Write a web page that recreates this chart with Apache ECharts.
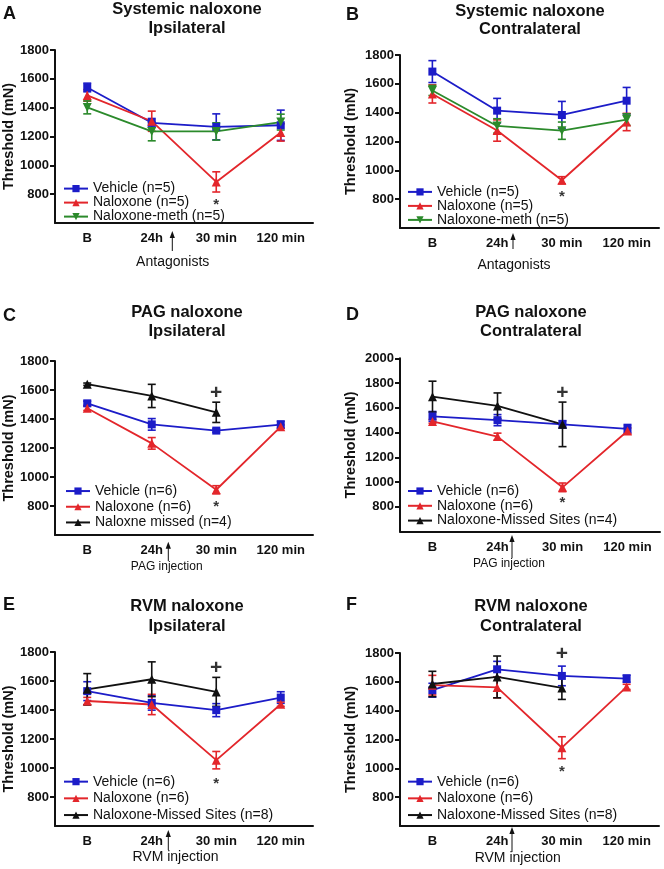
<!DOCTYPE html>
<html><head><meta charset="utf-8">
<script src="https://cdn.jsdelivr.net/npm/echarts@6/dist/echarts.min.js"></script>
<style>html,body{margin:0;padding:0;background:#fff}#c{width:664px;height:869px}</style>
</head><body><div id="c"></div>
<script>
const categories = ['B', '24h', '30 min', '120 min'];
const yTicks1800 = [800, 1000, 1200, 1400, 1600, 1800];
const yTicks2000 = [800, 1000, 1200, 1400, 1600, 1800, 2000];

// Panel A – Systemic naloxone, Ipsilateral
const aVehicle = [1540, 1295, 1267, 1278];  const aVehicleErr = [30, 30, 90, 105];
const aNaloxone = [1485, 1306, 885, 1228];  const aNaloxoneErr = [40, 70, 70, 60];
const aMeth = [1402, 1235, 1235, 1300];     const aMethErr = [45, 65, 60, 55];
// Panel B – Systemic naloxone, Contralateral
const bVehicle = [1685, 1414, 1384, 1483];  const bVehicleErr = [76, 85, 94, 92];
const bNaloxone = [1530, 1276, 931, 1335];  const bNaloxoneErr = [63, 74, 25, 60];
const bMeth = [1554, 1308, 1275, 1352];     const bMethErr = [35, 50, 60, 40];
// Panel C – PAG naloxone, Ipsilateral
const cVehicle = [1508, 1363, 1320, 1361];  const cVehicleErr = [15, 40, 12, 25];
const cNaloxone = [1474, 1232, 912, 1347];  const cNaloxoneErr = [15, 40, 28, 12];
const cMissed = [1640, 1559, 1446, null];   const cMissedErr = [8, 80, 70, null];
// Panel D – PAG naloxone, Contralateral
const dVehicle = [1530, 1500, 1466, 1430];  const dVehicleErr = [40, 45, 30, 35];
const dNaloxone = [1490, 1367, 957, 1412];  const dNaloxoneErr = [15, 28, 35, 25];
const dMissed = [1690, 1615, 1466, null];   const dMissedErr = [125, 105, 180, null];
// Panel E – RVM naloxone, Ipsilateral
const eVehicle = [1530, 1449, 1399, 1486];  const eVehicleErr = [65, 50, 45, 40];
const eNaloxone = [1462, 1438, 1054, 1440]; const eNaloxoneErr = [25, 70, 60, 15];
const eMissed = [1543, 1612, 1525, null];   const eMissedErr = [108, 120, 100, null];
// Panel F – RVM naloxone, Contralateral
const fVehicle = [1542, 1687, 1641, 1622];  const fVehicleErr = [48, 55, 68, 25];
const fNaloxone = [1577, 1561, 1143, 1565]; const fNaloxoneErr = [68, 72, 76, 18];
const fMissed = [1585, 1634, 1558, null];   const fMissedErr = [88, 145, 80, null];

// significance markers: [category, value, symbol]
const aMarks = [['30 min', 755, '*']];
const bMarks = [['30 min', 846, '*']];
const cMarks = [['30 min', 823, '*'], ['30 min', 1588, '+']];
const dMarks = [['30 min', 860, '*'], ['30 min', 1722, '+']];
const eMarks = [['30 min', 917, '*'], ['30 min', 1692, '+']];
const fMarks = [['30 min', 1000, '*'], ['30 min', 1796, '+']];

const FONT = '"Liberation Sans", Arial, sans-serif';
const BLUE = '#1c1cc8', RED = '#e3262b', GREEN = '#2b8a2b', BLACK = '#111111';

const panels = [
  {grid: {left: 54, top: 50, width: 259, height: 173}, max: 1800, ticks: yTicks1800, nameGap: 39,
   legend: {left: 63, top: 181.6, lh: 13.4},
   series: [['Vehicle (n=5)', aVehicle, aVehicleErr, BLUE, 'rect', 0],
            ['Naloxone (n=5)', aNaloxone, aNaloxoneErr, RED, 'triangle', 0],
            ['Naloxone-meth (n=5)', aMeth, aMethErr, GREEN, 'triangle', 180]], marks: aMarks},
  {grid: {left: 400, top: 55, width: 259, height: 173}, max: 1800, ticks: yTicks1800, nameGap: 42,
   legend: {left: 407, top: 184.9, lh: 13.6},
   series: [['Vehicle (n=5)', bVehicle, bVehicleErr, BLUE, 'rect', 0],
            ['Naloxone (n=5)', bNaloxone, bNaloxoneErr, RED, 'triangle', 0],
            ['Naloxone-meth (n=5)', bMeth, bMethErr, GREEN, 'triangle', 180]], marks: bMarks},
  {grid: {left: 54, top: 361, width: 259, height: 174}, max: 1800, ticks: yTicks1800, nameGap: 39,
   legend: {left: 65, top: 483.2, lh: 15.7},
   series: [['Vehicle (n=6)', cVehicle, cVehicleErr, BLUE, 'rect', 0],
            ['Naloxone (n=6)', cNaloxone, cNaloxoneErr, RED, 'triangle', 0],
            ['Naloxne missed (n=4)', cMissed, cMissedErr, BLACK, 'triangle', 0]], marks: cMarks},
  {grid: {left: 400, top: 358.3, width: 260, height: 173.2}, max: 2000, ticks: yTicks2000, nameGap: 42,
   legend: {left: 407, top: 483.6, lh: 14.8},
   series: [['Vehicle (n=6)', dVehicle, dVehicleErr, BLUE, 'rect', 0],
            ['Naloxone (n=6)', dNaloxone, dNaloxoneErr, RED, 'triangle', 0],
            ['Naloxone-Missed Sites (n=4)', dMissed, dMissedErr, BLACK, 'triangle', 0]], marks: dMarks},
  {grid: {left: 54, top: 652, width: 259, height: 174}, max: 1800, ticks: yTicks1800, nameGap: 39,
   legend: {left: 63, top: 773.3, lh: 16.7},
   series: [['Vehicle (n=6)', eVehicle, eVehicleErr, BLUE, 'rect', 0],
            ['Naloxone (n=6)', eNaloxone, eNaloxoneErr, RED, 'triangle', 0],
            ['Naloxone-Missed Sites (n=8)', eMissed, eMissedErr, BLACK, 'triangle', 0]], marks: eMarks},
  {grid: {left: 400, top: 653, width: 259, height: 173}, max: 1800, ticks: yTicks1800, nameGap: 42,
   legend: {left: 407, top: 773.3, lh: 16.7},
   series: [['Vehicle (n=6)', fVehicle, fVehicleErr, BLUE, 'rect', 0],
            ['Naloxone (n=6)', fNaloxone, fNaloxoneErr, RED, 'triangle', 0],
            ['Naloxone-Missed Sites (n=8)', fMissed, fMissedErr, BLACK, 'triangle', 0]], marks: fMarks}
];

const grid = [], xAxis = [], yAxis = [], legend = [], series = [];
panels.forEach((p, idx) => {
  grid.push(Object.assign({containLabel: false}, p.grid));
  xAxis.push({
    type: 'category', gridIndex: idx, data: categories, boundaryGap: true,
    axisLine: {lineStyle: {color: BLACK, width: 2}},
    axisTick: {alignWithLabel: true, length: 5, lineStyle: {color: BLACK, width: 2}},
    axisLabel: {color: BLACK, fontFamily: FONT, fontSize: 13, fontWeight: 'bold', margin: 9},
    splitLine: {show: false}
  });
  yAxis.push({
    type: 'value', gridIndex: idx, min: 600, max: p.max, interval: 200,
    name: 'Threshold (mN)', nameLocation: 'middle', nameGap: p.nameGap,
    nameTextStyle: {color: BLACK, fontFamily: FONT, fontSize: 14.5, fontWeight: 'bold'},
    axisLine: {show: true, lineStyle: {color: BLACK, width: 2}},
    axisTick: {show: true, length: 5, customValues: p.ticks, lineStyle: {color: BLACK, width: 2}},
    axisLabel: {color: BLACK, fontFamily: FONT, fontSize: 13, fontWeight: 'bold', margin: 6,
      customValues: p.ticks, formatter: v => String(v)},
    splitLine: {show: false}
  });
  legend.push({
    orient: 'vertical', left: p.legend.left, top: p.legend.top, padding: 0, itemGap: 0,
    itemWidth: 24, itemHeight: 9, selectedMode: false,
    data: p.series.map(s => s[0]),
    textStyle: {color: BLACK, fontFamily: FONT, fontSize: 14, lineHeight: p.legend.lh}
  });
  p.series.forEach(([name, vals, errs, color, sym, rot]) => {
    series.push({
      type: 'custom', xAxisIndex: idx, yAxisIndex: idx, z: 2, silent: true,
      data: vals.map((v, i) => v == null ? null : [i, v - errs[i], v + errs[i]]).filter(d => d),
      renderItem: (params, api) => {
        const lo = api.coord([api.value(0), api.value(1)]);
        const hi = api.coord([api.value(0), api.value(2)]);
        const w = 4;
        const st = {stroke: color, lineWidth: 1.6};
        return {type: 'group', children: [
          {type: 'line', shape: {x1: lo[0], y1: lo[1], x2: hi[0], y2: hi[1]}, style: st},
          {type: 'line', shape: {x1: lo[0] - w, y1: lo[1], x2: lo[0] + w, y2: lo[1]}, style: st},
          {type: 'line', shape: {x1: hi[0] - w, y1: hi[1], x2: hi[0] + w, y2: hi[1]}, style: st}
        ]};
      }
    });
    series.push({
      type: 'line', name, xAxisIndex: idx, yAxisIndex: idx, z: 3, data: vals,
      symbol: sym, symbolSize: sym === 'rect' ? 8 : 9, symbolRotate: rot, showSymbol: true,
      connectNulls: false, animation: false,
      lineStyle: {color, width: 1.8}, itemStyle: {color}
    });
  });
  series.push({
    type: 'scatter', xAxisIndex: idx, yAxisIndex: idx, z: 5, silent: true, symbolSize: 0.1,
    data: p.marks.map(m => ({value: [m[0], m[1]], label: {
      show: true, position: 'inside', formatter: m[2], color: '#000', fontFamily: FONT, fontWeight: 'bold',
      fontSize: m[2] === '*' ? 15 : 21, offset: m[2] === '*' ? [0, 4] : [0, 1]
    }}))
  });
});

function txt(text, x, y, size, bold, align) {
  return {type: 'text', x, y, silent: true, style: {text, fill: BLACK, textAlign: align || 'center', textVerticalAlign: 'middle',
    font: (bold ? 'bold ' : '') + size + 'px ' + FONT}};
}
function arrow(x, tip, bottom) {
  return [
    {type: 'line', silent: true, shape: {x1: x, y1: tip + 5, x2: x, y2: bottom}, style: {stroke: BLACK, lineWidth: 1}},
    {type: 'polygon', silent: true, shape: {points: [[x, tip], [x - 2.6, tip + 7], [x + 2.6, tip + 7]]}, style: {fill: BLACK}}
  ];
}
const TS = 16.5;
const graphic = [
  txt('A', 3, 14, 18, true, 'left'), txt('B', 346, 15.5, 18, true, 'left'),
  txt('C', 3, 316, 18, true, 'left'), txt('D', 346, 315.5, 18, true, 'left'),
  txt('E', 3, 605, 18, true, 'left'), txt('F', 346, 605, 18, true, 'left'),
  txt('Systemic naloxone', 187, 9.5, TS, true), txt('Ipsilateral', 187, 28.5, TS, true),
  txt('Systemic naloxone', 530, 11.7, TS, true), txt('Contralateral', 530, 29.3, TS, true),
  txt('PAG naloxone', 187, 312.7, TS, true), txt('Ipsilateral', 187, 331.7, TS, true),
  txt('PAG naloxone', 531, 312.7, TS, true), txt('Contralateral', 531, 331.7, TS, true),
  txt('RVM naloxone', 187, 606.7, TS, true), txt('Ipsilateral', 187, 626, TS, true),
  txt('RVM naloxone', 531, 606.7, TS, true), txt('Contralateral', 531, 626, TS, true),
  ...arrow(172.3, 231, 251), txt('Antagonists', 172.7, 261.7, 14, false),
  ...arrow(513, 233, 249), txt('Antagonists', 514, 265, 14, false),
  ...arrow(168.3, 541.7, 561), txt('PAG injection', 166.7, 566.7, 12, false),
  ...arrow(512, 535, 558), txt('PAG injection', 509, 563.3, 12, false),
  ...arrow(168.3, 830, 850), txt('RVM injection', 175.5, 856.7, 14, false),
  ...arrow(512, 827, 852), txt('RVM injection', 517.7, 858, 14, false)
];

const chart = echarts.init(document.getElementById('c'), null, {renderer: 'canvas'});
chart.setOption({animation: false, backgroundColor: '#fff', grid, xAxis, yAxis, legend, series, graphic});
</script></body></html>
